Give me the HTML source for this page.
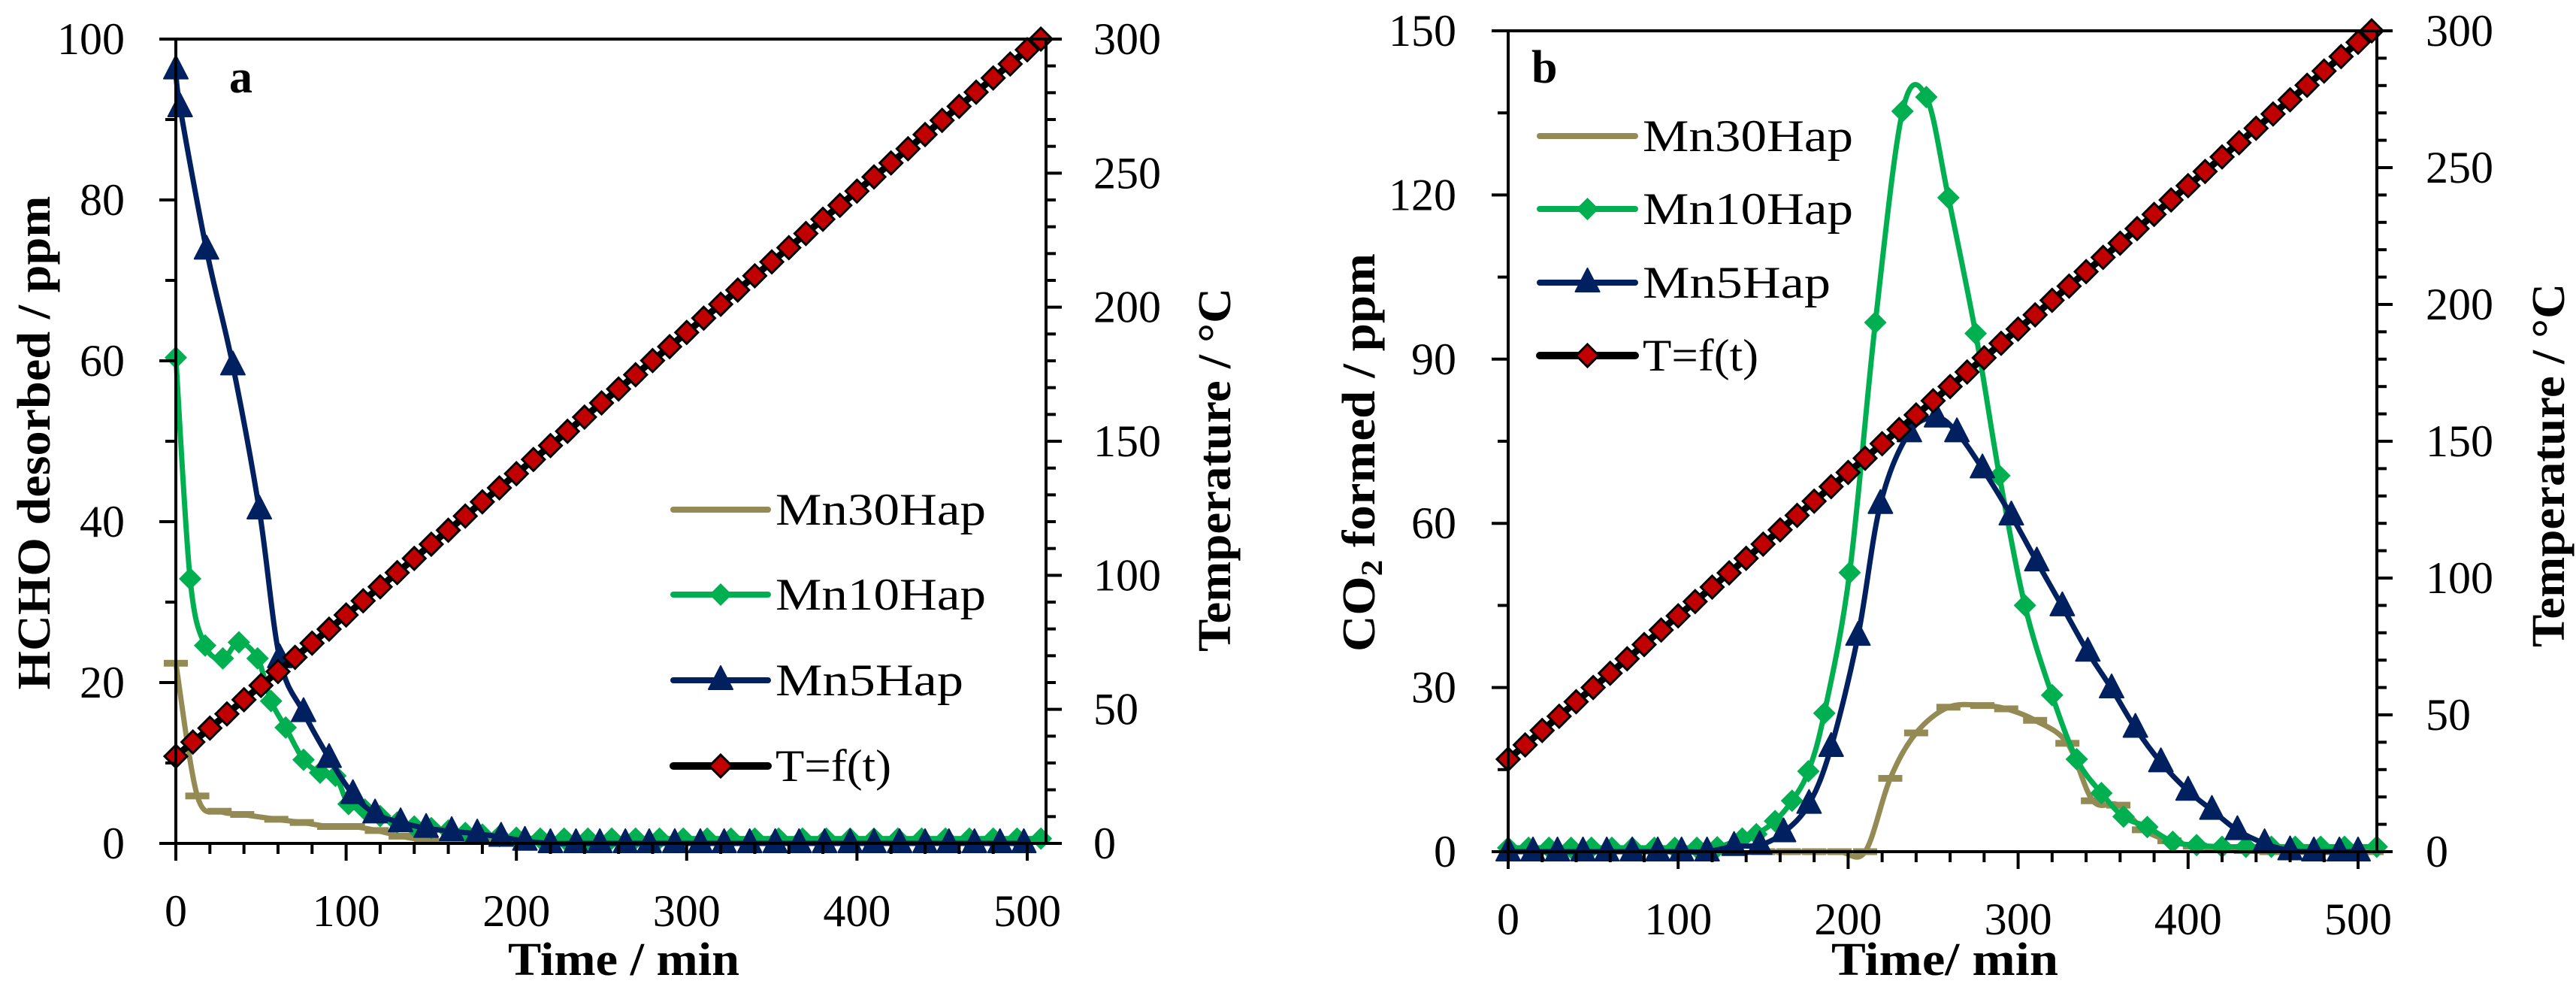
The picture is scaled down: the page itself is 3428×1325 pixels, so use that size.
<!DOCTYPE html>
<html><head><meta charset="utf-8"><style>
html,body{margin:0;padding:0;background:#fff;}
svg, svg text{font-family:"Liberation Serif","DejaVu Serif",serif;}
</style></head><body>
<svg id="chart" width="3428" height="1320" viewBox="0 0 3428 1320" xmlns="http://www.w3.org/2000/svg" font-family="Liberation Serif, DejaVu Serif, serif"></svg>
<script>
// ---------- data: panel a ----------
const tempTimes = [0,10,20,30,40,50,60,70,80,90,100,110,120,130,140,150,160,170,180,190,200,210,220,230,240,250,260,270,280,290,300,310,320,330,340,350,360,370,380,390,400,410,420,430,440,450,460,470,480,490,500,508];
const tempA = [32.5,37.8,43.0,48.3,53.6,58.9,64.1,69.4,74.7,79.9,85.2,90.5,95.7,101.0,106.3,111.6,116.8,122.1,127.4,132.6,137.9,143.2,148.4,153.7,159.0,164.3,169.5,174.8,180.1,185.3,190.6,195.9,201.1,206.4,211.7,216.9,222.2,227.5,232.8,238.0,243.3,248.6,253.8,259.1,264.4,269.7,274.9,280.2,285.5,290.7,296.0,300];
const mn5TimesA = [0,2.5,18,33.5,49,61,75,90,104,117,132,147,162,177,191,205,220,235,249,264,278,293,308,322,337,352,366,381,396,410,425,440,454,469,484,498];
const mn5A = [96.2,91.5,73.8,59.4,41.5,23.0,16.3,10.6,6.1,3.7,2.6,1.9,1.5,1.2,0.8,0.3,0,0,0,0,0,0,0,0,0,0,0,0,0,0,0,0,0,0,0,0];
const mn10TimesA = [0,8.4,17.2,27.6,37,48,55.9,64.5,75,84.7,93.7,101.4,111,120,130,140,150,160,170,180,190,200,214,228,242,256,270,284,298,312,326,340,354,368,382,396,410,424,438,452,466,480,494,508];
const mn10A = [60.4,32.9,24.6,23.0,25.0,23.0,17.7,14.4,10.4,8.8,8.4,4.9,4.2,3.4,2.6,2.1,1.9,1.6,1.3,1.1,0.9,0.7,0.6,0.6,0.6,0.6,0.6,0.6,0.6,0.6,0.6,0.6,0.6,0.6,0.6,0.6,0.6,0.6,0.6,0.6,0.6,0.6,0.6,0.6];
const mn30TimesA = [0,12.6,25.7,39,59,74,90,104,118,132,147,162,177,192,207,222,237,252,267,282,297,312,327,342,357,372,387,402,417,432,447,462,477,492,506];
const mn30A = [22.4,5.9,4.0,3.6,3.0,2.6,2.1,2.1,1.6,0.9,0.4,0.3,0.3,0.3,0.3,0.3,0.3,0.3,0.3,0.3,0.3,0.3,0.3,0.3,0.3,0.3,0.3,0.3,0.3,0.3,0.3,0.3,0.3,0.3,0.3];
// ---------- data: panel b ----------
const tempB = [33.8,39.0,44.3,49.5,54.8,60.0,65.2,70.5,75.7,81.0,86.2,91.4,96.7,101.9,107.2,112.4,117.6,122.9,128.1,133.4,138.6,143.8,149.1,154.3,159.6,164.8,170.0,175.3,180.5,185.8,191.0,196.2,201.5,206.7,212.0,217.2,222.4,227.7,232.9,238.2,243.4,248.6,253.9,259.1,264.4,269.6,274.8,280.1,285.3,290.6,295.8,300];
const mn10TimesB = [0,12,24,37,49,61,73,86,98,111,123,137.7,146,157,167,176.6,186,200.9,216,232,246,259,275,289,304,320,334.5,349,362,376,391,405,420,434,449,463,478,492,511];
const mn10B = [0.7,0.7,0.7,0.7,0.7,0.7,0.7,0.7,0.7,0.7,0.8,2.4,3.2,5.6,9.3,14.7,25.3,51,96.7,135.3,137.9,119.5,94.7,68.7,45,28.6,16.9,10.7,6.4,4.5,1.8,1.2,0.9,0.9,0.9,0.9,0.9,0.9,0.9];
const mn5TimesB = [0,14.6,29,44,58,73,88,102,117,132.9,148,162,177,190,205.8,219,236,252,264,279,296,311,326,341,355,369,384,400,414,429,445,460,474,489,500];
const mn5B = [0,0,0,0,0,0,0,0,0,1.0,1.2,3.5,8.7,19.1,39.4,63.5,76.6,79.3,76.6,70.0,61.4,53,44.8,36.5,29.8,22.6,16.3,11.1,7.6,3.9,1.5,0.2,0,0,0];
const mn30TimesB = [150,165,180,195,210,224.8,240,259,279,293,310,329,344,359,374,389,404,419,434,449,464,479,494,508];
const mn30B = [0,0,0,0,0,13.4,21.7,26.4,26.7,26.1,24.0,19.8,9.3,8.5,4.0,2.0,1.0,0.5,0.2,0,0,0,0,0];
const seriesNames = ["Mn30Hap","Mn10Hap","Mn5Hap","T=f(t)"];
const xTicks = [0,100,200,300,400,500];
const leftTicksA = [0,20,40,60,80,100];
const leftTicksB = [0,30,60,90,120,150];
const rightTicks = [0,50,100,150,200,250,300];

const NS = "http://www.w3.org/2000/svg";
const FF = '"Liberation Serif", "DejaVu Serif", serif';
const svg = document.getElementById("chart");
function mk(tag, attrs, parent, name, text){
  const e = document.createElementNS(NS, tag);
  for (const k in attrs) e.setAttribute(k, attrs[k]);
  if (tag === 'text') e.setAttribute('font-family', FF);
  
  
  if (text !== undefined) e.textContent = text;
  (parent||svg).appendChild(e);
  return e;
}
function smoothPath(pts){
  if (pts.length < 2) return "";
  let d = "M" + pts[0][0].toFixed(1) + "," + pts[0][1].toFixed(1);
  for (let i=0;i<pts.length-1;i++){
    const p0 = pts[i-1]||pts[i], p1 = pts[i], p2 = pts[i+1], p3 = pts[i+2]||p2;
    const c1x = p1[0]+(p2[0]-p0[0])/6, c1y = p1[1]+(p2[1]-p0[1])/6;
    const c2x = p2[0]-(p3[0]-p1[0])/6, c2y = p2[1]-(p3[1]-p1[1])/6;
    d += " C"+c1x.toFixed(1)+","+c1y.toFixed(1)+" "+c2x.toFixed(1)+","+c2y.toFixed(1)+" "+p2[0].toFixed(1)+","+p2[1].toFixed(1);
  }
  return d;
}
const COL = {mn30:"#948a54", mn10:"#00b050", mn5:"#002060", red:"#c00000"};
function marker(g, type, x, y, name){
  let e;
  if (type==="dash") e = mk('rect',{x:x-16,y:y-4.5,width:32,height:9,fill:COL.mn30},g,name);
  else if (type==="gdia") e = mk('polygon',{points:`${x},${y-15} ${x+15},${y} ${x},${y+15} ${x-15},${y}`,fill:COL.mn10},g,name);
  else if (type==="tri") e = mk('polygon',{points:`${x},${y-19} ${x+16},${y+12} ${x-16},${y+12}`,fill:COL.mn5,'stroke':COL.mn5,'stroke-width':2,'stroke-linejoin':'round'},g,name);
  else e = mk('polygon',{points:`${x},${y-15} ${x+15},${y} ${x},${y+15} ${x-15},${y}`,fill:COL.red,stroke:'#000','stroke-width':3},g,name);
  return e;
}

function panel(c){
  const g = mk('g',{},svg,c.id);
  const X = t => c.x0 + (t - 0) * (c.x500 - c.x0) / 500;
  const YL = v => c.yb - v * (c.yb - c.yt) / c.lmax;
  const YR = v => c.yb - v * (c.yb - c.yt) / 300;
  function series(times, vals, yf, color, width, mtype, name){
    const sg = mk('g',{},g,name);
    const pts = times.map((t,i)=>[X(t), yf(vals[i])]);
    mk('path',{d:smoothPath(pts),fill:'none',stroke:color,'stroke-width':width,'stroke-linejoin':'round','stroke-linecap':'round'},sg,name+'-line');
    pts.forEach(p=>marker(sg,mtype,p[0],p[1],name+'-marker'));
  }
  series(c.mn30t,c.mn30v,YL,COL.mn30,7,'dash','series-mn30hap');
  series(c.mn10t,c.mn10v,YL,COL.mn10,7,'gdia','series-mn10hap');
  series(c.mn5t,c.mn5v,YL,COL.mn5,7,'tri','series-mn5hap');
  series(tempTimes,c.temp,YR,'#000',9,'rdia','series-temperature');
  const ax = mk('g',{stroke:'#000','stroke-width':4,fill:'none'},g,'axes');
  mk('rect',{x:c.x0,y:c.yt,width:c.xr-c.x0,height:c.yb-c.yt},ax,'plot-frame');
  for (let t=0;t<=510;t+=20){
    const major = t%100===0;
    mk('line',{x1:X(t),x2:X(t),y1:c.yb,y2:c.yb+(major?23:14)},ax,'x-tick');
  }
  const lstep = c.lmax/10;
  for (let i=0;i<=10;i++){
    const y = YL(i*lstep);
    mk('line',{x1:c.x0-(i%2===0?22:14),x2:c.x0,y1:y,y2:y},ax,'left-y-tick');
  }
  for (let v=0;v<=300;v+=10){
    const y = YR(v);
    mk('line',{x1:c.xr,x2:c.xr+(v%50===0?21:13),y1:y,y2:y},ax,'right-y-tick');
  }
  const tl = mk('g',{'font-size':60,fill:'#000'},g,'tick-labels');
  xTicks.forEach(t=>mk('text',{x:X(t),y:c.xlabY,'text-anchor':'middle','font-size':60},tl,'x-tick-label',String(t)));
  c.lticks.forEach(v=>mk('text',{x:c.llabX,y:YL(v)+20,'text-anchor':'end','font-size':60},tl,'left-y-tick-label',String(v)));
  rightTicks.forEach(v=>mk('text',{x:c.rlabX,y:YR(v)+20,'text-anchor':'start','font-size':60},tl,'right-y-tick-label',String(v)));
  mk('text',{x:c.xtX,y:1297,'text-anchor':'middle','font-size':62,'font-weight':'bold',textLength:c.xtW,lengthAdjust:'spacingAndGlyphs'},g,'x-axis-title',c.xtitle);
  const lt = mk('text',{x:0,y:0,'text-anchor':'middle','font-size':62,'font-weight':'bold',transform:`translate(${c.ltX},${c.ltY}) rotate(-90)`,textLength:c.ltW,lengthAdjust:'spacingAndGlyphs'},g,'left-y-axis-title');
  if (c.co2){
    lt.appendChild(document.createTextNode('CO'));
    const s = document.createElementNS(NS,'tspan'); s.setAttribute('font-size','40'); s.setAttribute('dy','10'); s.textContent='2';
     
    lt.appendChild(s);
    const s2 = document.createElementNS(NS,'tspan'); s2.setAttribute('dy','-10'); s2.textContent=' formed / ppm';
     
    lt.appendChild(s2);
  } else lt.textContent = c.ltitle;
  mk('text',{x:0,y:0,'text-anchor':'middle','font-size':62,'font-weight':'bold',transform:`translate(${c.rtX},${c.rtY}) rotate(-90)`,textLength:484,lengthAdjust:'spacingAndGlyphs'},g,'right-y-axis-title','Temperature / °C');
  mk('text',{x:c.labX,y:c.labY,'font-size':62,'font-weight':'bold'},g,'panel-label',c.label);
  const lg = mk('g',{},g,'legend');
  const cols = [COL.mn30,COL.mn10,COL.mn5,'#000'], mt = ['dash','gdia','tri','rdia'];
  const lens = [280,280,250,154];
  seriesNames.forEach((n,i)=>{
    const y = c.legY[i];
    const eg = mk('g',{},lg,'legend-entry');
    mk('line',{x1:c.legX1,x2:c.legX2,y1:y,y2:y,stroke:cols[i],'stroke-width':i===3?10:8,'stroke-linecap':'round'},eg,'legend-line');
    if (i>0) marker(eg,mt[i],(c.legX1+c.legX2)/2,y,'legend-marker');
    mk('text',{x:c.legX2+10,y:y+20,'font-size':60,textLength:lens[i],lengthAdjust:'spacingAndGlyphs'},eg,'legend-label',n);
  });
}

panel({id:'panel-a',x0:234,x500:1367,xr:1392,yt:52,yb:1122,lmax:100,
  mn30t:mn30TimesA,mn30v:mn30A,mn10t:mn10TimesA,mn10v:mn10A,mn5t:mn5TimesA,mn5v:mn5A,temp:tempA,
  lticks:leftTicksA,xlabY:1232,llabX:166,rlabX:1455,
  xtitle:'Time / min',xtX:830,xtW:308,ltitle:'HCHO desorbed / ppm',ltX:66,ltY:589,ltW:657,rtX:1637,rtY:625,
  label:'a',labX:305,labY:123,legX1:896,legX2:1022,legY:[678,791,905,1019]});
panel({id:'panel-b',x0:2007,x500:3138,xr:3163,yt:41,yb:1133,lmax:150,co2:true,
  mn30t:mn30TimesB,mn30v:mn30B,mn10t:mn10TimesB,mn10v:mn10B,mn5t:mn5TimesB,mn5v:mn5B,temp:tempB,
  lticks:leftTicksB,xlabY:1243,llabX:1938,rlabX:3228,
  xtitle:'Time/ min',xtX:2588,xtW:302,ltX:1829,ltY:602,ltW:530,rtX:3412,rtY:619,
  label:'b',labX:2038,labY:110,legX1:2049,legX2:2176,legY:[181,278,376,473]});
</script>
</body></html>
